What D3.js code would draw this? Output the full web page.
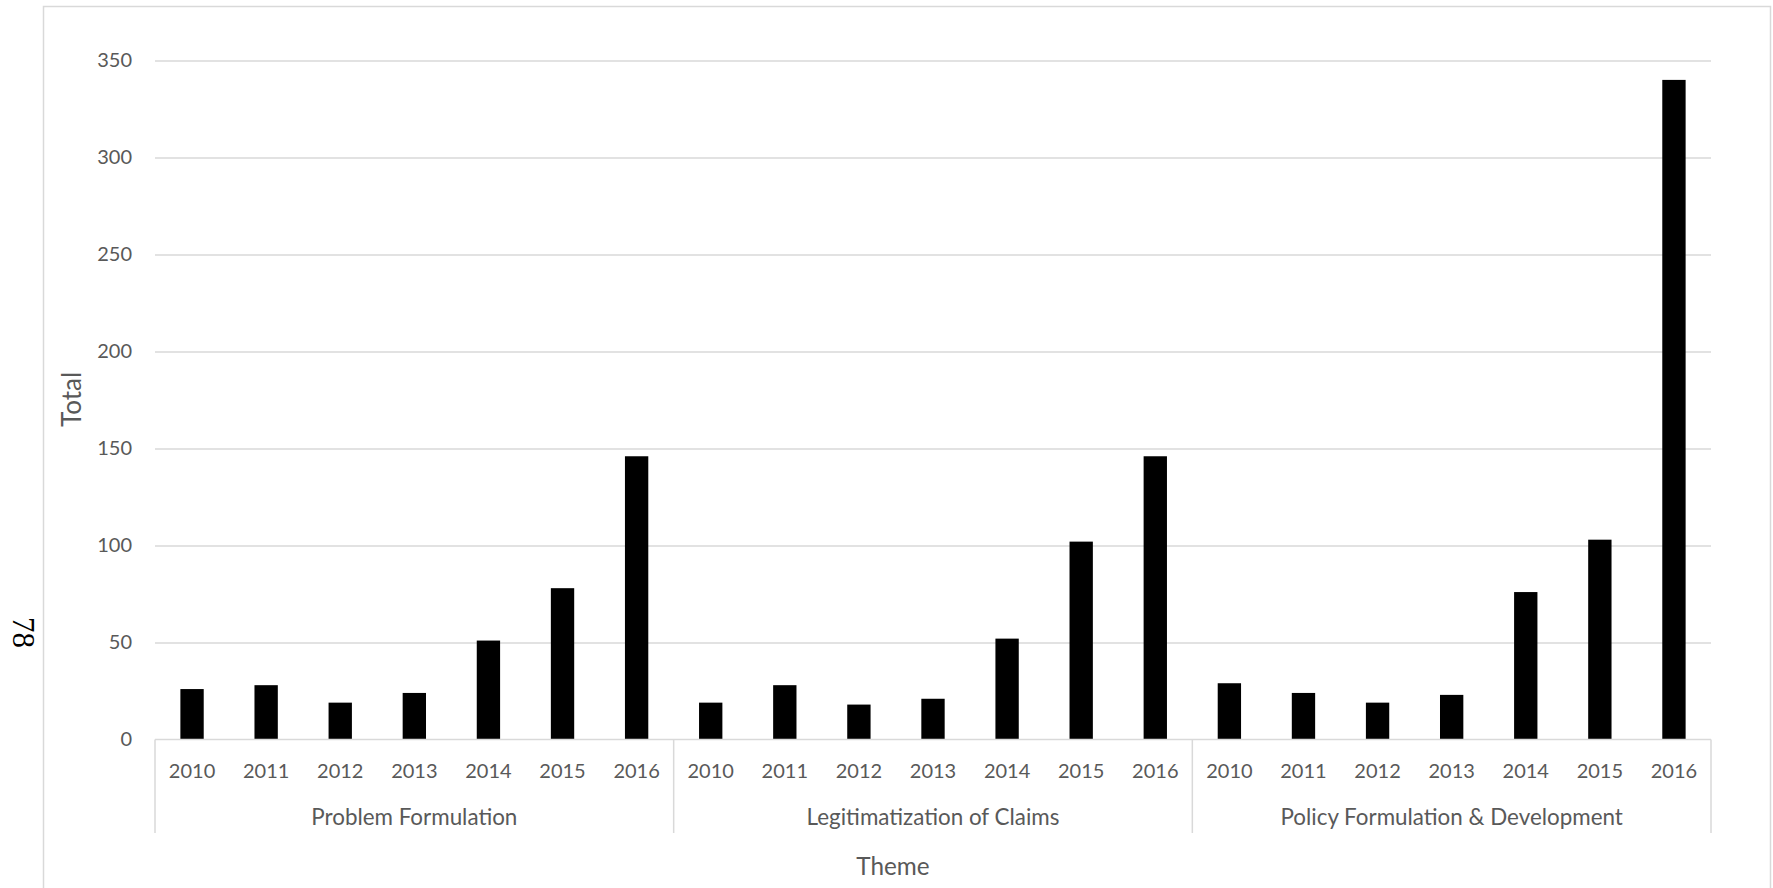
<!DOCTYPE html>
<html>
<head>
<meta charset="utf-8">
<script src="https://cdn.jsdelivr.net/npm/d3@7"></script>
<style>
  html, body { margin: 0; padding: 0; background: #fff; }
  svg { display: block; }
</style>
</head>
<body>
<svg id="chart" width="1773" height="888"></svg>
<script>
// ---- data ----
const themes = ["Problem Formulation", "Legitimatization of Claims", "Policy Formulation & Development"];
const years = ["2010", "2011", "2012", "2013", "2014", "2015", "2016"];
const problemFormulation = [26, 28, 19, 24, 51, 78, 146];
const legitimatizationOfClaims = [19, 28, 18, 21, 52, 102, 146];
const policyFormulation = [29, 24, 19, 23, 76, 103, 340];
const yTicks = [0, 50, 100, 150, 200, 250, 300, 350];
const seriesByTheme = [problemFormulation, legitimatizationOfClaims, policyFormulation];

// ---- layout ----
const svg = d3.select("#chart");
const plot = { left: 155, right: 1711, top: 60.5, bottom: 739.5 };
const textColor = "#595959";
const gridColor = "#d9d9d9";
const font = "Lato, 'Open Sans', sans-serif";

// chart border
svg.append("rect")
  .attr("x", 43.5).attr("y", 6.5)
  .attr("width", 1727).attr("height", 920)
  .attr("fill", "none").attr("stroke", gridColor).attr("stroke-width", 1.5);

const y = d3.scaleLinear().domain([0, 350]).range([plot.bottom, plot.top]);
const xTheme = d3.scaleBand().domain(themes).range([plot.left, plot.right]).padding(0);
const xYear = d3.scaleBand().domain(years).range([0, xTheme.bandwidth()])
  .paddingInner(0.685).paddingOuter(0.3425);

// gridlines
const grid = svg.append("g")
  .attr("transform", `translate(${plot.left},0)`)
  .call(d3.axisLeft(y).tickValues(yTicks.filter(d => d > 0)).tickSize(-(plot.right - plot.left)).tickFormat(""));
grid.select(".domain").remove();
grid.selectAll(".tick line").attr("stroke", gridColor).attr("stroke-width", 1.5);

// y tick labels
const yAxis = svg.append("g")
  .attr("transform", `translate(${plot.left},0)`)
  .call(d3.axisLeft(y).tickValues(yTicks).tickSize(0).tickPadding(23));
yAxis.select(".domain").remove();
yAxis.selectAll("text")
  .attr("fill", textColor).style("font-family", font).style("font-size", "20px");

// bars
themes.forEach((t, i) => {
  const g = svg.append("g").attr("transform", `translate(${xTheme(t)},0)`);
  g.selectAll("rect")
    .data(seriesByTheme[i])
    .join("rect")
    .attr("x", (d, j) => xYear(years[j]))
    .attr("width", xYear.bandwidth())
    .attr("y", d => y(d))
    .attr("height", d => y(0) - y(d))
    .attr("fill", "#000");
});

// category axis baseline
svg.append("line")
  .attr("x1", plot.left).attr("x2", plot.right)
  .attr("y1", plot.bottom).attr("y2", plot.bottom)
  .attr("stroke", gridColor).attr("stroke-width", 1.5);

// group separators
const bounds = themes.map(t => xTheme(t)).concat([plot.right]);
svg.selectAll("line.sep")
  .data(bounds)
  .join("line")
  .attr("class", "sep")
  .attr("x1", d => d).attr("x2", d => d)
  .attr("y1", plot.bottom).attr("y2", 833)
  .attr("stroke", gridColor).attr("stroke-width", 1.5);

// year labels per theme
themes.forEach(t => {
  const ax = svg.append("g")
    .attr("transform", `translate(${xTheme(t)},${plot.bottom})`)
    .call(d3.axisBottom(xYear).tickSize(0).tickPadding(0));
  ax.select(".domain").remove();
  ax.selectAll("text")
    .attr("y", 38.5).attr("dy", null)
    .attr("fill", textColor).style("font-family", font).style("font-size", "20px");
});

// theme labels
svg.selectAll("text.theme")
  .data(themes)
  .join("text")
  .attr("class", "theme")
  .attr("x", d => xTheme(d) + xTheme.bandwidth() / 2)
  .attr("y", 825)
  .attr("text-anchor", "middle")
  .attr("fill", textColor).style("font-family", font).style("font-size", "22.4px")
  .text(d => d);

// axis titles
svg.append("text")
  .attr("x", 893).attr("y", 875)
  .attr("text-anchor", "middle")
  .attr("fill", textColor).style("font-family", font).style("font-size", "24.3px")
  .text("Theme");

svg.append("text")
  .attr("transform", "translate(81,399.5) rotate(-90)")
  .attr("text-anchor", "middle")
  .attr("fill", textColor).style("font-family", font).style("font-size", "26px")
  .text("Total");

// page number
svg.append("text")
  .attr("transform", "translate(13,632.5) rotate(90)")
  .attr("text-anchor", "middle")
  .attr("fill", "#000").style("font-family", "'Liberation Serif', 'DejaVu Serif', serif").style("font-size", "31px")
  .text("78");
</script>
</body>
</html>
